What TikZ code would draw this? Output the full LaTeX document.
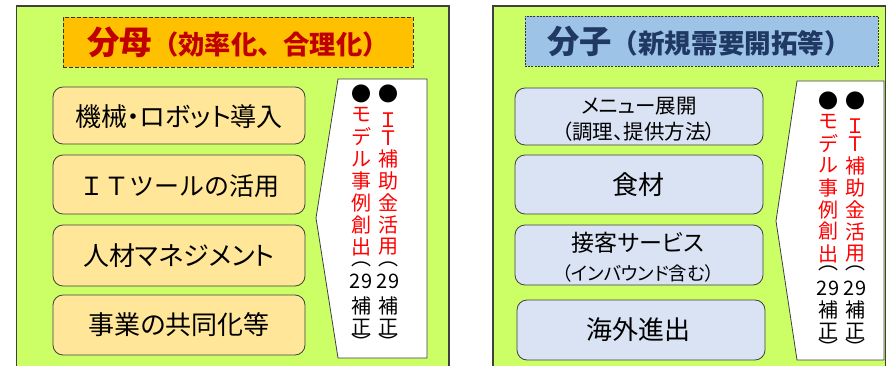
\documentclass[tikz,border=0pt]{standalone}
\usepackage{fontspec}
\setmainfont{Noto Sans CJK JP}
\newfontfamily\jpp[RawFeature=+palt]{Noto Sans CJK JP}
\definecolor{panelgreen}{HTML}{CCFF66}
\definecolor{panelline}{HTML}{404040}
\definecolor{titleorange}{HTML}{FFC000}
\definecolor{titleblue}{HTML}{9DC3E6}
\definecolor{itemorange}{HTML}{FFE699}
\definecolor{itemblue}{HTML}{DAE3F3}
\definecolor{darkred}{HTML}{C00000}
\definecolor{navy}{HTML}{1F3864}
\definecolor{brightred}{HTML}{FF0000}
\begin{document}
\begin{tikzpicture}[x=1pt,y=-1pt,
  panel/.style={draw=panelline, fill=panelgreen, line width=1.2pt},
  titleL/.style={draw=black!80, fill=titleorange, line width=0.8pt, dash pattern=on 4pt off 2pt},
  titleR/.style={draw=black!80, fill=titleblue, line width=0.8pt, dash pattern=on 2pt off 1.2pt},
  itembox/.style={draw=panelline, line width=0.8pt, rounded corners=10pt, inner sep=0pt},
  itemL/.style={itembox, fill=itemorange, minimum width=252pt},
  itemR/.style={itembox, fill=itemblue, minimum width=248pt},
  itemtext/.style={inner sep=0pt, text=black, font=\jpp\fontsize{26}{30}\selectfont},
  callout/.style={draw=panelline, fill=white, line width=0.8pt},
  vch/.style={inner sep=0pt, font=\fontsize{20}{20}\selectfont}
]
\useasboundingbox (0,0) rectangle (886,366);
\clip (0,0) rectangle (886,366);
\fill[white] (0,0) rectangle (886,366);

% panels
\draw[panel] (16.5,6) rectangle (449,372);
\draw[panel] (493,6) rectangle (885.5,372);

% titles
\node[titleL, minimum width=350pt, minimum height=50pt, inner sep=0pt] (tL) at (238,42) {};
\node[inner sep=0pt, text=darkred, font=\bfseries] (tLtext) at (238,42)
  {\fontsize{32.5}{32.5}\selectfont 分母\fontsize{26.3}{26.3}\selectfont （効率化、合理化）};
\node[titleR, minimum width=353pt, minimum height=50pt, inner sep=0pt] (tR) at (701.5,41) {};
\node[inner sep=0pt, text=navy, font=\bfseries] (tRtext) at (699,41)
  {\fontsize{32.3}{32.3}\selectfont 分子\fontsize{26.6}{26.6}\selectfont （新規需要開拓等）};

% left items
\node[itemL, minimum height=57pt] (L1) at (179,115.5) {};
\node[itemL, minimum height=59pt] (L2) at (179,184.5) {};
\node[itemL, minimum height=61pt] (L3) at (179,255.5) {};
\node[itemL, minimum height=60pt] (L4) at (179,325) {};
\node[itemtext] (L1t) at (179,116.5) {機械・ロボット導入};
\node[itemtext, font=\fontsize{25}{30}\selectfont] (L2t) at (179,186) {ＩＴツールの活用};
\node[itemtext] (L3t) at (179,255.5) {人材マネジメント};
\node[itemtext] (L4t) at (179,325) {事業の共同化等};

% right items
\node[itemR, minimum height=57pt] (R1) at (639,116.5) {};
\node[itemR, minimum height=59pt] (R2) at (639,184.5) {};
\node[itemR, minimum height=60pt] (R3) at (639,255) {};
\node[itemR, minimum height=60pt] (R4) at (641,330) {};
\node[itemtext, font=\jpp\fontsize{20.5}{20}\selectfont] (R1a) at (639,106) {メニュー展開};
\node[itemtext, font=\jpp\fontsize{20.5}{20}\selectfont] (R1b) at (639,132) {（調理、提供方法）};
\node[itemtext] (R2t) at (638.5,185) {食材};
\node[itemtext, font=\jpp\fontsize{23}{23}\selectfont] (R3a) at (638,243) {接客サービス};
\node[itemtext, font=\jpp\fontsize{18.5}{18}\selectfont] (R3b) at (638,273) {（インバウンド含む）};
\node[itemtext] (R4t) at (638.5,330) {海外進出};

% callouts
\draw[callout] (338,79) -- (427,79) -- (427,358) -- (338,358) -- (316,218) -- cycle;
\draw[callout] (797,81) -- (884,81) -- (884,360) -- (797,360) -- (776,221) -- cycle;

% vertical text, left callout
\foreach \c/\y/\col [count=\i] in {●/93.5/black, モ/115/brightred, デ/137/brightred, ル/159/brightred, 事/181/brightred, 例/203/brightred, 創/225/brightred, 出/247/brightred, ︵/264/black, 29/281.5/black, 補/306/black, 正/327/black, ︶/342/black}
  \node[vch, text=\col] (la\i) at (361,\y) {\c};
\foreach \c/\y/\col [count=\i] in {●/93.5/black, Ｉ/120/brightred, Ｔ/138/brightred, 補/159/brightred, 助/181/brightred, 金/203/brightred, 活/225/brightred, 用/247/brightred, ︵/264/black, 29/281.5/black, 補/306/black, 正/327/black, ︶/342/black}
  \node[vch, text=\col] (lb\i) at (388,\y) {\c};

% vertical text, right callout
\foreach \c/\y/\col [count=\i] in {●/101/black, モ/121.5/brightred, デ/143.5/brightred, ル/165.5/brightred, 事/187.5/brightred, 例/209.5/brightred, 創/231.5/brightred, 出/253.5/brightred, ︵/268/black, 29/288/black, 補/310/black, 正/331/black, ︶/347/black}
  \node[vch, text=\col] (ra\i) at (828,\y) {\c};
\foreach \c/\y/\col [count=\i] in {●/101/black, Ｉ/126/brightred, Ｔ/144/brightred, 補/165.5/brightred, 助/187.5/brightred, 金/209.5/brightred, 活/231.5/brightred, 用/253.5/brightred, ︵/268/black, 29/288/black, 補/310/black, 正/331/black, ︶/347/black}
  \node[vch, text=\col] (rb\i) at (855,\y) {\c};
\end{tikzpicture}
\end{document}
